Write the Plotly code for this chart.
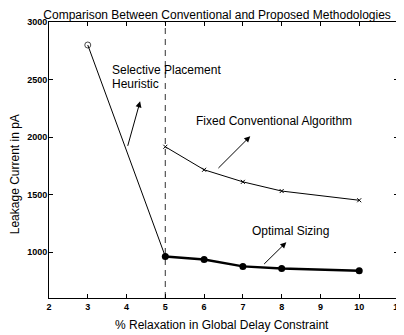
import plotly.graph_objects as go

# Data
heuristic_x = [3, 5]
heuristic_y = [2800, 960]
optimal_x = [5, 6, 7, 8, 10]
optimal_y = [960, 935, 875, 857, 837]
fixed_x = [5, 6, 7, 8, 10]
fixed_y = [1915, 1715, 1610, 1530, 1450]
x_ticks = [2, 3, 4, 5, 6, 7, 8, 9, 10, 11]
y_ticks = [1000, 1500, 2000, 2500, 3000]
constraint_x = 5

FONT = "Liberation Sans, Arial, sans-serif"

fig = go.Figure()
fig.add_trace(go.Scatter(x=[constraint_x, constraint_x], y=[600, 3000], mode="lines",
                         line=dict(color="#555555", width=1.2, dash="6px,5px"),
                         hoverinfo="skip"))
fig.add_trace(go.Scatter(x=heuristic_x, y=heuristic_y, mode="lines+markers",
                         line=dict(color="black", width=1),
                         marker=dict(symbol=["circle-open", "circle"], size=[6, 0],
                                     color="black", line=dict(width=1, color="black"))))
fig.add_trace(go.Scatter(x=fixed_x, y=fixed_y, mode="lines+markers",
                         line=dict(color="black", width=1),
                         marker=dict(symbol="x-thin-open", size=4, color="black",
                                     line=dict(width=1, color="black"))))
fig.add_trace(go.Scatter(x=optimal_x, y=optimal_y, mode="lines+markers",
                         line=dict(color="black", width=2.5),
                         marker=dict(symbol="circle", size=7, color="black")))

def arrow(tx, ty, hx, hy):
    fig.add_annotation(x=hx, y=hy, ax=tx, ay=ty, xref="x", yref="y", axref="x", ayref="y",
                       text="", showarrow=True, arrowhead=2, arrowsize=1.2, arrowwidth=1,
                       arrowcolor="black")

arrow(4.02, 1910, 4.35, 2310)
arrow(6.33, 1717, 7.19, 2007)
arrow(7.51, 883, 8.12, 1085)

def label(x, y, text):
    fig.add_annotation(x=x, y=y, xref="x", yref="y", text=text,
                       showarrow=False, xanchor="left", yanchor="middle", align="left",
                       font=dict(family=FONT, size=12, color="black"))

label(3.57, 2585, "Selective Placement")
label(3.57, 2465, "Heuristic")
label(5.75, 2137, "Fixed Conventional Algorithm")
label(7.19, 1187, "Optimal Sizing")

fig.add_annotation(x=0.495, y=-0.098, xref="paper", yref="paper",
                   text="% Relaxation in Global Delay Constraint", showarrow=False,
                   xanchor="center", yanchor="middle", font=dict(family=FONT, size=12, color="black"))
fig.add_annotation(x=-0.097, y=0.449, xref="paper", yref="paper",
                   text="Leakage Current in pA", showarrow=False, textangle=-90,
                   xanchor="center", yanchor="middle", font=dict(family=FONT, size=12, color="black"))

fig.update_layout(
    width=396, height=327,
    margin=dict(l=41, r=6, t=14, b=37),
    paper_bgcolor="white", plot_bgcolor="white",
    showlegend=False,
    title=dict(text="Comparison Between Conventional and Proposed Methodologies",
               x=0.528, xanchor="center", y=0.98, yanchor="middle",
               font=dict(family=FONT, size=12, color="black")),
    font=dict(family=FONT, color="black"),
)
fig.update_xaxes(range=[2, 11], tickvals=x_ticks, ticktext=[str(v) for v in x_ticks],
                 ticks="inside", ticklen=4, tickcolor="black", mirror="ticks",
                 showline=True, linecolor="black", linewidth=1, showgrid=False, zeroline=False,
                 automargin=False,
                 tickfont=dict(family=FONT, size=9, color="black", weight="bold"))
fig.update_yaxes(range=[600, 3000], tickvals=y_ticks, ticktext=[str(v) for v in y_ticks],
                 ticks="inside", ticklen=4, tickcolor="black", mirror="ticks",
                 showline=True, linecolor="black", linewidth=1, showgrid=False, zeroline=False,
                 automargin=False, ticklabelstandoff=-1,
                 tickfont=dict(family=FONT, size=9, color="black", weight="bold"))

fig.write_html("out.html")
